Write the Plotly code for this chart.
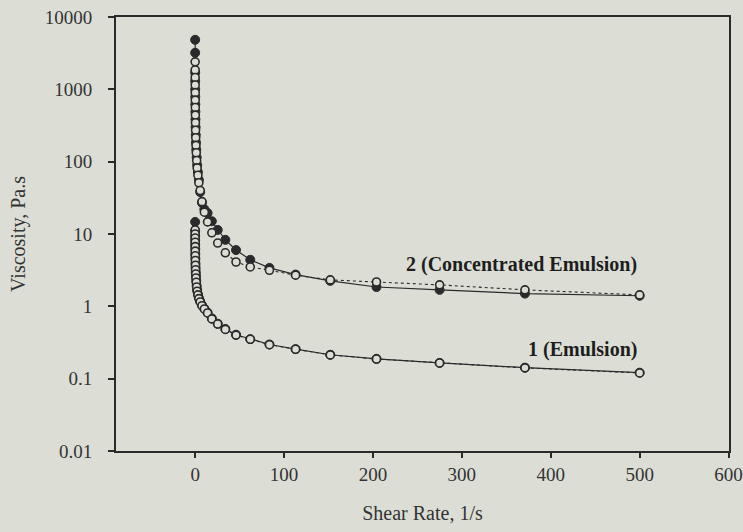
import plotly.graph_objects as go

# Shear rate grid (1/s)
shear = [0.036, 0.048, 0.065, 0.088, 0.118, 0.16, 0.21, 0.29, 0.39, 0.52, 0.70, 0.95,
         1.28, 1.72, 2.3, 3.1, 4.2, 5.7, 7.7, 10.4, 14, 18.8, 25.4, 34, 46, 62, 83.6,
         113, 152, 204, 275, 371, 500]

# 1 (Emulsion)
emul_open = [11.4, 10.0, 8.8, 7.7, 6.7, 5.8, 5.0, 4.3, 3.7, 3.2, 2.8, 2.47, 2.15, 1.85,
             1.62, 1.44, 1.28, 1.15, 1.02, 0.92, 0.81, 0.67, 0.57, 0.48, 0.40, 0.35,
             0.295, 0.255, 0.213, 0.187, 0.165, 0.141, 0.12]
emul_filled = [14.7, 11.0, 9.4, 8.2, 7.1, 6.2, 5.3, 4.6, 3.9, 3.4, 2.95, 2.6, 2.25, 1.93,
               1.68, 1.48, 1.31, 1.17, 1.04, 0.93, 0.82, 0.68, 0.575, 0.485, 0.405, 0.352,
               0.297, 0.256, 0.214, 0.188, 0.165, 0.142, 0.121]

# 2 (Concentrated Emulsion)
conc_open = [2400, 1850, 1460, 1150, 900, 710, 560, 440, 345, 272, 214, 168, 133, 104,
             82, 65, 51, 40, 28, 20, 14.7, 10.4, 7.5, 5.5, 4.1, 3.5, 3.15, 2.7, 2.32,
             2.17, 1.98, 1.69, 1.44]
conc_filled = [4840, 3200, 1700, 1300, 1000, 790, 620, 490, 385, 300, 235, 185, 147, 115,
               90, 72, 56, 38, 27, 22, 19.5, 15, 11.4, 8.3, 6.0, 4.4, 3.4, 2.75, 2.25,
               1.85, 1.69, 1.50, 1.40]

x_ticks = [0, 100, 200, 300, 400, 500, 600]
y_ticks = [0.01, 0.1, 1, 10, 100, 1000, 10000]
y_tick_text = ["0.01", "0.1", "1", "10", "100", "1000", "10000"]

BG = "#dcded6"
INK = "#2a2a2a"
FONT = "Liberation Serif"

fig = go.Figure()

def add_pair(filled, opened):
    fig.add_trace(go.Scatter(
        x=shear, y=filled, mode="lines+markers",
        line=dict(color=INK, width=1.2),
        marker=dict(symbol="circle", size=9, color=INK, line=dict(color=INK, width=1)),
        showlegend=False, hoverinfo="skip"))
    fig.add_trace(go.Scatter(
        x=shear, y=opened, mode="lines+markers",
        line=dict(color=INK, width=1.1, dash="dot"),
        marker=dict(symbol="circle", size=8, color=BG, line=dict(color=INK, width=1.6)),
        showlegend=False, hoverinfo="skip"))

add_pair(conc_filled, conc_open)
add_pair(emul_filled, emul_open)

fig.add_annotation(x=499, y=0.573, xref="x", yref="y", text="<b>2 (Concentrated Emulsion)</b>",
                   showarrow=False, xanchor="right", yanchor="middle",
                   font=dict(family=FONT, size=20, color="#1e1e1e"))
fig.add_annotation(x=499, y=-0.603, xref="x", yref="y", text="<b>1 (Emulsion)</b>",
                   showarrow=False, xanchor="right", yanchor="middle",
                   font=dict(family=FONT, size=20, color="#1e1e1e"))

fig.update_layout(
    width=743, height=532,
    margin=dict(l=116, r=14, t=17, b=81),
    paper_bgcolor=BG, plot_bgcolor=BG,
    font=dict(family=FONT, size=19, color="#333333"),
    xaxis=dict(range=[-89, 600.5], tickvals=x_ticks, ticks="outside", ticklen=5,
               tickcolor=INK, tickwidth=1.5, showgrid=False, zeroline=False,
               showline=True, linecolor=INK, linewidth=2, mirror=True,
               automargin=False, ticklabelstandoff=0,
               title=dict(text="Shear Rate, 1/s", standoff=22,
                          font=dict(family=FONT, size=20, color="#333333"))),
    yaxis=dict(type="log", range=[-2, 4], tickvals=y_ticks, ticktext=y_tick_text,
               ticks="outside", ticklen=6, tickcolor=INK, tickwidth=1.5,
               showgrid=False, zeroline=False, showline=True, linecolor=INK,
               linewidth=2, mirror=True, automargin=False, ticklabelstandoff=12,
               title=dict(text="Viscosity, Pa.s", standoff=14,
                          font=dict(family=FONT, size=20, color="#333333"))),
)

fig.write_html(
    "out.html",
    config={"displayModeBar": False},
    post_script="document.body.style.margin='0';document.body.style.background='" + BG + "';",
)
